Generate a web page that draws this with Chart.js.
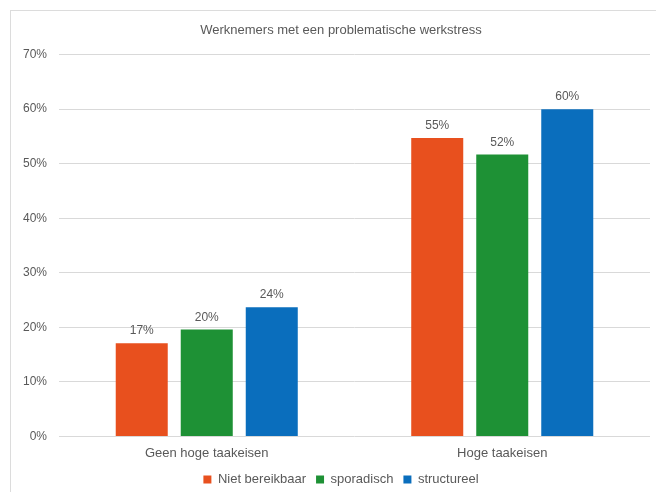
<!DOCTYPE html>
<html>
<head>
<meta charset="utf-8">
<script src="https://cdn.jsdelivr.net/npm/chart.js@4"></script>
<style>
  html, body { margin: 0; padding: 0; background: #fff; overflow: hidden; }
  #box {
    position: absolute; left: 10px; top: 10px;
    width: 660px; height: 485px;
    border-top: 1px solid #dcdcdc; border-left: 1px solid #dcdcdc;
  }
  #g1 { display: block; }
</style>
</head>
<body>
<div id="box"><canvas id="g1" width="660" height="485"></canvas></div>
<script>
// chart values
const categories = ['Geen hoge taakeisen', 'Hoge taakeisen'];
const seriesNames = ['Niet bereikbaar', 'sporadisch', 'structureel'];
const nietBereikbaar = [17.1, 54.7];
const sporadisch = [19.6, 51.7];
const structureel = [23.7, 60.0];
const yTicks = [0, 10, 20, 30, 40, 50, 60, 70];

const colors = ['#e8501e', '#1e9135', '#0a6ebd'];
const textGray = '#595959';
const fontFam = '"Liberation Sans", Arial, sans-serif';

// draws the % label above every bar
const valueLabels = {
    id: 'valueLabels',
    afterDatasetsDraw(chart) {
        const c = chart.ctx;
        c.save();
        c.font = '12px ' + fontFam;
        c.fillStyle = textGray;
        c.textAlign = 'center';
        c.textBaseline = 'bottom';
        chart.data.datasets.forEach((ds, i) => {
            chart.getDatasetMeta(i).data.forEach((bar, j) => {
                c.fillText(Math.round(ds.data[j]) + '%', bar.x, bar.y - 6);
            });
        });
        c.restore();
    }
};

const ctx = document.getElementById('g1').getContext('2d');
const chart = new Chart(ctx, {
    type: 'bar',
    data: {
        labels: categories,
        datasets: [nietBereikbaar, sporadisch, structureel].map((d, i) => ({
            label: seriesNames[i],
            data: d,
            backgroundColor: colors[i],
            barPercentage: 0.8,
            categoryPercentage: 0.66
        }))
    },
    options: {
        responsive: false,
        animation: false,
        layout: { padding: 0 },
        plugins: {
            title: {
                display: true,
                text: 'Werknemers met een problematische werkstress',
                color: textGray,
                font: { family: fontFam, size: 13, weight: 'normal' },
                padding: { top: 12, bottom: 16 }
            },
            legend: {
                position: 'bottom',
                labels: {
                    boxWidth: 8,
                    boxHeight: 8,
                    padding: 10,
                    color: textGray,
                    font: { family: fontFam, size: 13 }
                }
            },
            tooltip: { enabled: false }
        },
        scales: {
            x: {
                afterFit(axis) { axis.height = axis.height - 7; },
                grid: { display: false, drawTicks: false },
                border: { display: false },
                ticks: {
                    color: textGray,
                    padding: 9,
                    font: { family: fontFam, size: 13 }
                }
            },
            y: {
                min: 0,
                max: 70,
                afterBuildTicks(axis) { axis.ticks = yTicks.map(v => ({ value: v })); },
                afterFit(axis) { axis.width = 48; },
                grid: { color: '#d9d9d9', drawTicks: false },
                border: { display: false },
                ticks: {
                    color: textGray,
                    padding: 12,
                    font: { family: fontFam, size: 12 },
                    callback: v => v + '%'
                }
            },
            // empty right axis, only keeps a margin right of the plot
            yRight: {
                position: 'right',
                afterFit(axis) { axis.width = 21; },
                grid: { display: false },
                border: { display: false },
                ticks: { display: false }
            }
        }
    },
    plugins: [valueLabels]
});
</script>
</body>
</html>
